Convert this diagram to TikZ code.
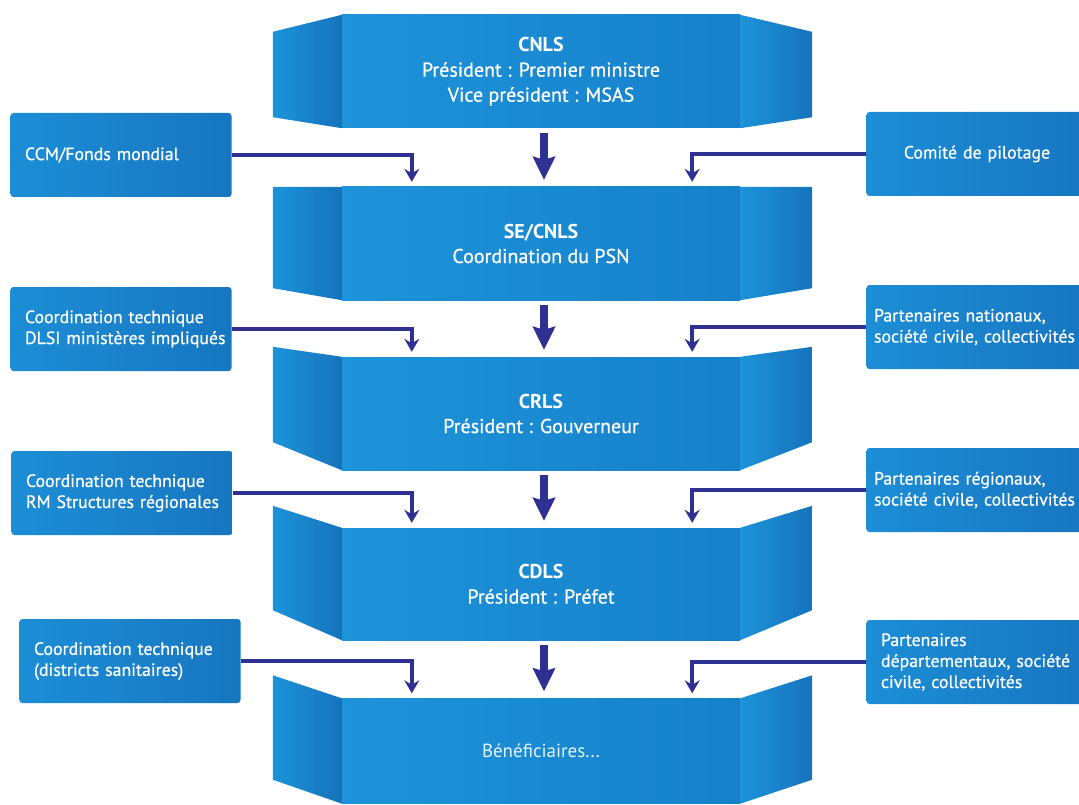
\documentclass[tikz,border=0pt]{standalone}
\usepackage{fontspec}
\setmainfont{PT Sans}
\newfontfamily\medfont[FakeBold=0.7]{PT Sans}
\usetikzlibrary{arrows.meta,calc}

\definecolor{deepnavy}{HTML}{2E3192}
\definecolor{facelight}{HTML}{1D93DA}
\definecolor{facedark}{HTML}{1681CA}
\definecolor{winglight}{HTML}{1D93D9}
\definecolor{wingdark}{HTML}{1573BC}
\definecolor{sidelight}{HTML}{1C8ED6}
\definecolor{sidedark}{HTML}{1776C0}

\tikzset{
  face/.style={left color=facelight, right color=facedark, minimum width=398pt,
    inner sep=0pt, text=white, align=center, font=\fontsize{20}{25}\medfont},
  side/.style={left color=sidelight, right color=sidedark, rounded corners=3pt,
    minimum width=221pt, minimum height=84pt, text width=192pt, inner sep=0pt,
    align=left, text=white, font=\fontsize{17.8}{21}\medfont},
  feed/.style={draw=deepnavy, line width=3.6pt,
    -{Stealth[length=13pt,width=15pt,inset=4.5pt]}},
  flow/.style={draw=deepnavy, line width=8pt,
    -{Stealth[length=23pt,width=22pt,inset=3pt]}},
}

\begin{document}
\begin{tikzpicture}[x=1pt,y=-1pt]
\useasboundingbox (0,0) rectangle (1079,805);

% levels
\node[face, minimum height=113pt] (cnls) at (541,71.5)
  {{\rmfamily\bfseries CNLS}\\Président : Premier ministre\\Vice président : MSAS};
\node[face, minimum height=113pt] (se) at (541,243.5)
  {{\rmfamily\bfseries SE/CNLS}\\Coordination du PSN};
\node[face, minimum height=113pt] (crls) at (541,413.5)
  {{\rmfamily\bfseries CRLS}\\Président : Gouverneur};
\node[face, minimum height=112pt] (cdls) at (541,584)
  {{\rmfamily\bfseries CDLS}\\Président : Préfet};
\node[face, minimum height=105pt, font=\fontsize{19}{25}\rmfamily,
  text=white!88!facelight] (benef) at (541,751) {Bénéficiaires...};

% side faces
\foreach \b/\dt/\db in {cnls/17/-11, se/0/-12, crls/-10/-28, cdls/-22/-30, benef/-23/-24}{
  \path[left color=winglight, right color=wingdark] (\b.north west) -- ++(-69,\dt)
    -- ($(\b.south west)+(-69,\db)$) -- (\b.south west) -- cycle;
  \path[left color=winglight, right color=wingdark] (\b.north east) -- ++(72,\dt)
    -- ($(\b.south east)+(72,\db)$) -- (\b.south east) -- cycle;
}

% partners
\node[side] (ccm) at (121,155) {\mbox{CCM/Fonds mondial}};
\node[side] (dlsi) at (121,329)
  {\mbox{Coordination technique}\\\mbox{DLSI ministères impliqués}};
\node[side] (rm) at (122,493)
  {\mbox{Coordination technique}\\\mbox{RM Structures régionales}};
\node[side] (ds) at (130,661)
  {\mbox{Coordination technique}\\\mbox{(districts sanitaires)}};
\node[side, align=center] (pilot) at (977,154) {\mbox{Comité de pilotage}};
\node[side, text width=206pt] (pnat) at (977,327)
  {\mbox{Partenaires nationaux,}\\\mbox{société civile, collectivités}};
\node[side, text width=206pt] (preg) at (977,490)
  {\mbox{Partenaires régionaux,}\\\mbox{société civile, collectivités}};
\node[side] (pdep) at (977,662)
  {Partenaires\\\mbox{départementaux, société}\\\mbox{civile, collectivités}};

% arrows
\draw[flow] ($(cnls.south)+(3,5)$) -- ($(se.north)+(3,-7)$);
\draw[flow] ($(se.south)+(3,5)$) -- ($(crls.north)+(3,-7)$);
\draw[flow] ($(crls.south)+(3,5)$) -- ($(cdls.north)+(3,-7)$);
\draw[flow] ($(cdls.south)+(3,5)$) -- ($(benef.north)+(3,-7)$);

\draw[feed] (ccm.east) -| ($(se.north west)+(70,-5)$);
\draw[feed] (dlsi.east) -| ($(crls.north west)+(70,-5)$);
\draw[feed] (rm.east) -| ($(cdls.north west)+(70,-5)$);
\draw[feed] (ds.east) -| ($(benef.north west)+(70,-5)$);
\draw[feed] (pilot.west) -| ($(se.north east)+(-48,-5)$);
\draw[feed] (pnat.west) -| ($(crls.north east)+(-48,-5)$);
\draw[feed] (preg.west) -| ($(cdls.north east)+(-48,-5)$);
\draw[feed] (pdep.west) -| ($(benef.north east)+(-48,-5)$);
\end{tikzpicture}
\end{document}
